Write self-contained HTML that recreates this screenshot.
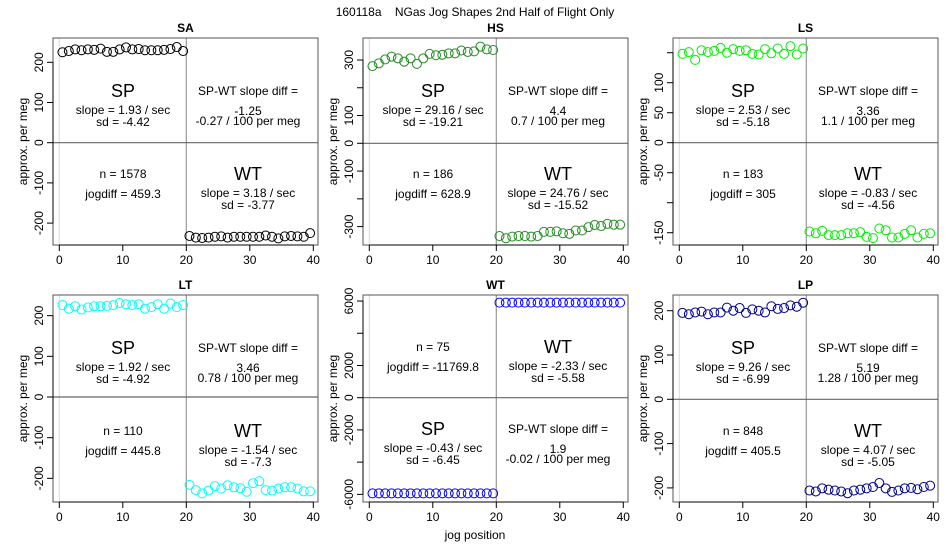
<!DOCTYPE html>
<html><head><meta charset="utf-8"><style>
body{margin:0;background:#fff;}
svg{display:block;font-family:"Liberation Sans",sans-serif;}
</style></head><body>
<svg id="chart" width="950" height="550" viewBox="0 0 950 550">
<rect width="950" height="550" fill="#fff"/>
<text x="475" y="16" text-anchor="middle" font-size="12" style="white-space:pre">160118a    NGas Jog Shapes 2nd Half of Flight Only</text>
<text x="475" y="539" text-anchor="middle" font-size="12">jog position</text>
</svg>
<script>
const panelNames = ["SA","HS","LS","LT","WT","LP"];
const colors = ["#000000","#228B22","#00EE00","#00FFFF","#0000FF","#00008B"];
const spSA=[225,228,232,230,232,231,234,226,226,232,237,232,233,230,230,230,231,233,238,228];
const wtSA=[-232,-236,-237,-236,-234,-233,-236,-234,-234,-234,-234,-234,-231,-234,-238,-233,-232,-233,-234,-225];
const spHS=[278,288,302,312,306,294,306,286,306,322,317,319,324,324,334,329,331,348,338,336];
const wtHS=[-334,-342,-336,-334,-334,-336,-334,-319,-319,-317,-324,-326,-314,-314,-302,-294,-298,-290,-293,-293];
const spLS=[148,151,138,154,151,153,158,150,156,153,154,148,147,156,149,157,148,161,147,157];
const wtLS=[-148,-151,-147,-154,-154,-154,-151,-151,-149,-157,-159,-143,-146,-158,-158,-152,-146,-158,-152,-151];
const spLT=[226,217,223,215,220,223,223,224,226,231,228,226,228,217,221,228,217,230,221,226];
const wtLT=[-216,-229,-237,-230,-219,-225,-217,-222,-224,-233,-212,-207,-229,-230,-225,-222,-222,-225,-232,-232];
const spWT=[-5940,-5940,-5940,-5940,-5940,-5940,-5940,-5940,-5940,-5940,-5940,-5940,-5940,-5940,-5940,-5940,-5940,-5940,-5940,-5940];
const wtWT=[5900,5900,5900,5900,5900,5900,5900,5900,5900,5900,5900,5900,5900,5900,5900,5900,5900,5900,5900,5900];
const spLP=[195,192,196,198,192,196,196,207,200,206,195,203,200,196,210,204,206,212,209,218];
const wtLP=[-206,-208,-201,-204,-206,-208,-212,-206,-204,-201,-198,-189,-201,-209,-206,-201,-200,-203,-198,-195];
const spSeries=[spSA,spHS,spLS,spLT,spWT,spLP];
const wtSeries=[wtSA,wtHS,wtLS,wtLT,wtWT,wtLP];
const xTicks=[0,10,20,30,40];
const yTicksSA=[-200,-100,0,100,200];
const yTicksHS=[-300,-200,-100,0,100,200,300];
const yLabelsHS=["-300","","-100","0","100","","300"];
const yTicksLS=[-150,-100,-50,0,50,100,150];
const yLabelsLS=["-150","","-50","0","50","100",""];
const yTicksWT=[-6000,-4000,-2000,0,2000,4000,6000];
const yLabelsWT=["-6000","","-2000","0","2000","","6000"];
const yTicksAll=[yTicksSA,yTicksHS,yTicksLS,yTicksSA,yTicksWT,yTicksSA];
const yLabelsAll=[yTicksSA.map(String),yLabelsHS,yLabelsLS,yTicksSA.map(String),yLabelsWT,yTicksSA.map(String)];
const spSlope=["1.93","29.16","2.53","1.92","-0.43","9.26"];
const spSd=["-4.42","-19.21","-5.18","-4.92","-6.45","-6.99"];
const wtSlope=["3.18","24.76","-0.83","-1.54","-2.33","4.07"];
const wtSd=["-3.77","-15.52","-4.56","-7.3","-5.58","-5.05"];
const diffVal=["-1.25","4.4","3.36","3.46","1.9","5.19"];
const diffPer=["-0.27","0.7","1.1","0.78","-0.02","1.28"];
const nVals=["1578","186","183","110","75","848"];
const jogdiff=["459.3","628.9","305","445.8","-11769.8","405.5"];
// layout (not data)
const zeroY=[142.7,143.3,142.7,397,397.7,399.3];
const yScale=[0.402,0.2777,0.6,0.4067,0.01611,0.443];
const svg=document.getElementById('chart');
const NS="http://www.w3.org/2000/svg";
function mk(tag,attrs,parent){const e=document.createElementNS(NS,tag);for(const k in attrs)e.setAttribute(k,attrs[k]);(parent||svg).appendChild(e);return e;}
function txt(x,y,s,size,parent,extra){const e=mk('text',Object.assign({x:x,y:y,'text-anchor':'middle','font-size':size,'dominant-baseline':'central'},extra||{}),parent);e.textContent=s;return e;}
for(let p=0;p<6;p++){
  const col=p%3,row=Math.floor(p/3);
  const L=53+col*310,T=38+row*257,W=265,H=207;
  const xs=v=>L+6.3+v*6.35;
  const ys=v=>zeroY[p]-v*yScale[p];
  const g=mk('g',{});
  
  
  const t=txt(L+W/2,T-10,panelNames[p],12,g,{'font-weight':'bold'});
  
  
  mk('line',{x1:xs(0),y1:T,x2:xs(0),y2:T+H,stroke:'#d8d8d8','stroke-width':1},g);
  mk('line',{x1:xs(20),y1:T,x2:xs(20),y2:T+H,stroke:'#999','stroke-width':1.2},g);
  mk('line',{x1:L,y1:ys(0),x2:L+W,y2:ys(0),stroke:'#666','stroke-width':1.2},g);
  mk('rect',{x:L,y:T,width:W,height:H,fill:'none',stroke:'#555','stroke-width':1},g);
  mk('line',{x1:xs(0),y1:T+H,x2:xs(40),y2:T+H,stroke:'#000'},g);
  xTicks.forEach(v=>{mk('line',{x1:xs(v),y1:T+H,x2:xs(v),y2:T+H+6,stroke:'#000'},g);const l=txt(xs(v),T+H+15,String(v),12,g);});
  const yt=yTicksAll[p],yl=yLabelsAll[p];
  mk('line',{x1:L,y1:ys(yt[0]),x2:L,y2:ys(yt[yt.length-1]),stroke:'#000'},g);
  yt.forEach((v,i)=>{mk('line',{x1:L,y1:ys(v),x2:L-6,y2:ys(v),stroke:'#000'},g);
    if(yl[i]){const l=txt(0,0,yl[i],12,g,{transform:`translate(${L-14},${ys(v)}) rotate(-90)`});}});
  const yt2=txt(0,0,'approx. per meg',12,g,{transform:`translate(${L-30},${T+H/2}) rotate(-90)`});
  
  
  spSeries[p].forEach((v,i)=>{const c=mk('circle',{cx:xs(i+0.5),cy:ys(v),r:4.5,fill:'none',stroke:colors[p],'stroke-width':1},g);});
  wtSeries[p].forEach((v,i)=>{const c=mk('circle',{cx:xs(i+20.5),cy:ys(v),r:4.5,fill:'none',stroke:colors[p],'stroke-width':1},g);});
  const flip=(p===4);
  const cl=L+70,cr=L+195;
  const a=flip?T+134:T+53, b=flip?T+52:T+136;
  txt(cl,a,'SP',18,g);
  txt(cl,a+19,`slope = ${spSlope[p]} / sec`,12,g);
  txt(cl,a+31,`sd = ${spSd[p]}`,12,g);
  txt(cr,a,'SP-WT slope diff =',12,g);
  txt(cr,a+20,diffVal[p],12,g);
  txt(cr,a+30,`${diffPer[p]} / 100 per meg`,12,g);
  txt(cl,b,`n = ${nVals[p]}`,12,g);
  txt(cl,b+20,`jogdiff = ${jogdiff[p]}`,12,g);
  txt(cr,b,'WT',18,g);
  txt(cr,b+19,`slope = ${wtSlope[p]} / sec`,12,g);
  txt(cr,b+31,`sd = ${wtSd[p]}`,12,g);
}
</script>
</body></html>
